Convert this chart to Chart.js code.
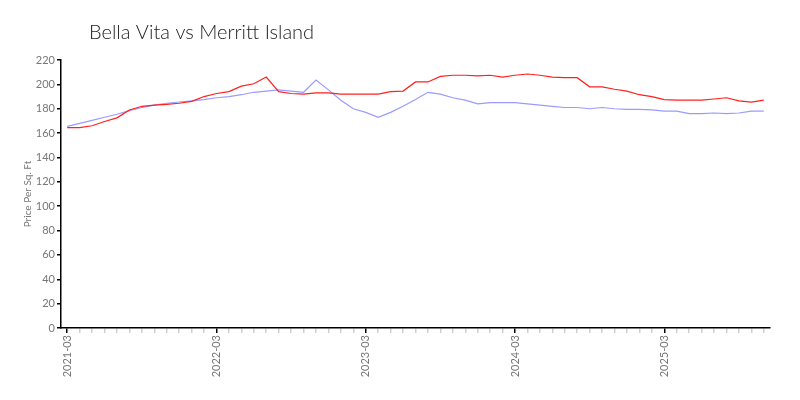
<!DOCTYPE html>
<html>
<head>
<meta charset="utf-8">
<script src="https://cdn.jsdelivr.net/npm/chart.js@4"></script>
<style>
  html, body { margin: 0; padding: 0; background: #fff; }
  #wrap { width: 800px; height: 400px; }
</style>
</head>
<body>
<div id="wrap"><canvas id="c" width="800" height="400"></canvas></div>
<script>
const chartTitle = "Bella Vita vs Merritt Island";
const yAxisTitle = "Price Per Sq. Ft";
const months = [
  "2021-03","2021-04","2021-05","2021-06","2021-07","2021-08","2021-09","2021-10","2021-11","2021-12",
  "2022-01","2022-02","2022-03","2022-04","2022-05","2022-06","2022-07","2022-08","2022-09","2022-10","2022-11","2022-12",
  "2023-01","2023-02","2023-03","2023-04","2023-05","2023-06","2023-07","2023-08","2023-09","2023-10","2023-11","2023-12",
  "2024-01","2024-02","2024-03","2024-04","2024-05","2024-06","2024-07","2024-08","2024-09","2024-10","2024-11","2024-12",
  "2025-01","2025-02","2025-03","2025-04","2025-05","2025-06","2025-07","2025-08","2025-09","2025-10","2025-11"
];
const bellaVita = [
  164.5,164.5,166,169.5,172.5,179,182,183,183.5,184.5,
  186,190,192.5,194,198.5,200.5,206,194,192.5,192,193,193,
  192,192,192,192,194,194.5,202,202,206.5,207.5,207.5,207,
  207.5,206,207.5,208.5,207.5,206,205.5,205.5,198,198,196,194.5,
  191.5,190,187.5,187,187,187,188,189,186.5,185.5,187
];
const merrittIsland = [
  165.5,168,170.5,173,175.5,178.5,181,183,184.5,185.5,
  186.5,187.5,189,190,191.5,193.5,194.5,195.5,194.5,193.5,203.5,195.5,
  187,180,177,173,177,182,187.5,193.5,192,189,187,184,
  185,185,185,184,183,182,181,181,180,181,180,179.5,
  179.5,179,178,178,176,176,176.5,176,176.5,178,178
];
const yTicks = [0,20,40,60,80,100,120,140,160,180,200,220];

const titleShift = {
  id: 'titleShift',
  afterLayout(chart) { if (chart.titleBlock) chart.titleBlock.left = 89; }
};

const tickFont = { family: 'Lato', size: 11, weight: '400' };

new Chart(document.getElementById('c'), {
  type: 'line',
  data: {
    labels: months,
    datasets: [
      { label: 'Bella Vita', data: bellaVita, borderColor: '#ff2020', borderWidth: 1.2, pointRadius: 0, tension: 0, fill: false },
      { label: 'Merritt Island', data: merrittIsland, borderColor: '#9a9aff', borderWidth: 1.2, pointRadius: 0, tension: 0, fill: false }
    ]
  },
  options: {
    responsive: false,
    animation: false,
    layout: { padding: { left: 0, right: 30, top: 0, bottom: 0 } },
    plugins: {
      legend: { display: false },
      tooltip: { enabled: false },
      title: {
        display: true, text: chartTitle, align: 'start', color: '#222',
        font: { family: 'Lato', size: 20, weight: '300' },
        padding: { top: 21, bottom: 15 }
      }
    },
    scales: {
      x: {
        type: 'category',
        offset: true,
        border: { display: true, color: '#000', width: 1.5 },
        grid: {
          drawOnChartArea: false, drawTicks: true, tickLength: 5,
          color: (ctx) => (ctx.index % 12 === 0 ? '#000' : '#d0d0d0'),
          tickColor: (ctx) => (ctx.index % 12 === 0 ? '#000' : '#d0d0d0'),
          lineWidth: 1.5
        },
        ticks: {
          autoSkip: false, maxRotation: 90, minRotation: 90, color: '#777', padding: 2,
          font: tickFont,
          callback: function(v, i) { return i % 12 === 0 ? months[i] : ''; }
        },
        afterFit: (s) => { s.height = 72; }
      },
      y: {
        min: 0, max: 220,
        border: { display: true, color: '#000', width: 1.5 },
        grid: { drawOnChartArea: false, drawTicks: true, tickLength: 4, tickColor: '#000', lineWidth: 1.5 },
        afterBuildTicks: (s) => { s.ticks = yTicks.map(v => ({ value: v })); },
        ticks: { color: '#777', padding: 2, font: tickFont },
        title: { display: true, text: yAxisTitle, color: '#777', font: { family: 'Lato', size: 10, weight: '400' }, padding: { top: 22, bottom: 0 } },
        afterFit: (s) => { s.width = 61; }
      }
    }
  },
  plugins: [titleShift]
});
</script>
</body>
</html>
